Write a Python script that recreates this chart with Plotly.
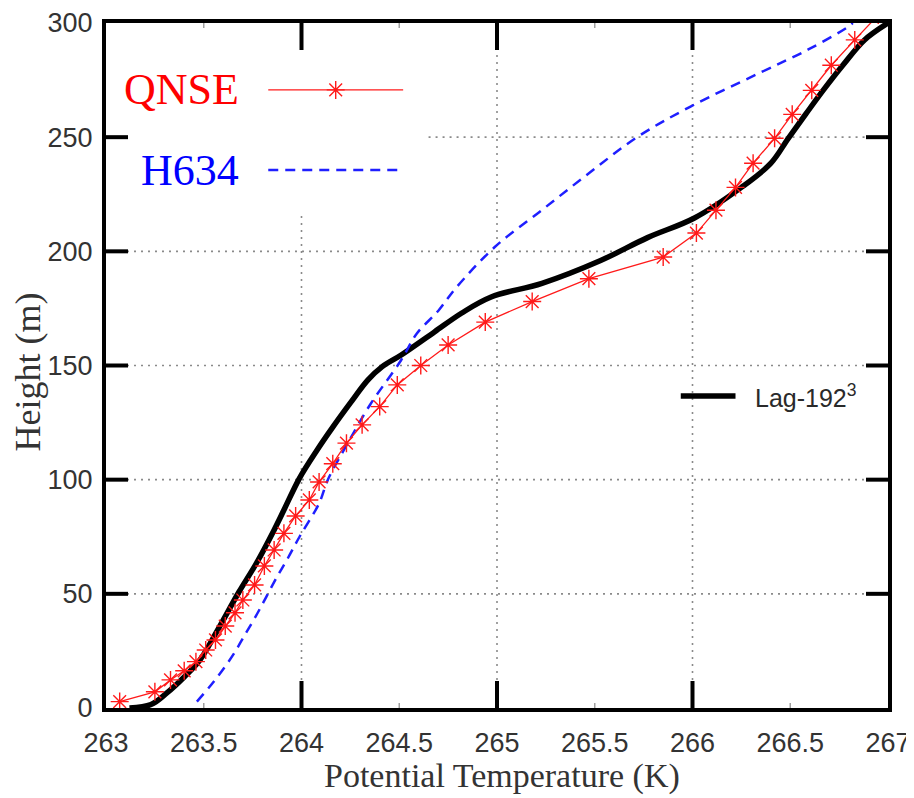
import plotly.graph_objects as go

# ---------------- data ----------------
lag_T = [263.12, 263.23, 263.31, 263.40, 263.48, 263.57, 263.68, 263.77, 263.86, 263.91,
         263.99, 264.08, 264.16, 264.25, 264.34, 264.413, 264.51, 264.68, 264.82, 264.97, 265.23,
         265.53, 265.77, 266.01, 266.25, 266.40, 266.49, 266.58, 266.67, 266.77, 266.88, 267.0]
lag_z = [0, 1.5, 6.5, 13.6, 21, 34, 50.8, 63.5, 78, 86.7,
         100.7, 113, 123, 133.6, 143.7, 149.5, 154.6, 164.7, 173, 180, 186,
         196, 206, 214.6, 228, 238.5, 249.5, 260.2, 270.7, 281.6, 292.6, 300]

qnse_T = [263.07, 263.25, 263.33, 263.40, 263.46, 263.51, 263.56, 263.61, 263.66, 263.70,
          263.76, 263.81, 263.86, 263.91, 263.97, 264.04, 264.09, 264.16, 264.23, 264.31,
          264.40, 264.49, 264.61, 264.75, 264.94, 265.18, 265.47, 265.85, 266.02, 266.12,
          266.22, 266.31, 266.42, 266.51, 266.61, 266.71, 266.83, 266.95]
qnse_z = [2.8, 7.1, 12.3, 16.3, 20.3, 25.4, 29.8, 35.9, 41.7, 47.3,
          53.9, 62.2, 69.2, 76.5, 84.1, 91.1, 99, 107, 116, 124,
          132, 141.5, 150, 159, 169, 178, 188, 197.5, 208, 218,
          228, 238.6, 249.5, 260, 270.5, 281.5, 292.6, 303.5]

h634_T = [263.465, 263.53, 263.59, 263.655, 263.71, 263.765, 263.82, 263.875, 263.925, 263.99,
          264.09, 264.135, 264.23, 264.35, 264.51, 264.59, 264.70, 264.79, 264.99, 265.23,
          265.47, 265.72, 265.99, 266.34, 266.59, 266.79, 266.82]
h634_z = [2.8, 9.3, 15.9, 23.9, 32, 40, 48.7, 57.5, 64.8, 75,
          89.6, 100, 115, 132.7, 152.4, 164, 174, 184, 202, 218.1,
          234.2, 250.2, 263.4, 278, 288.3, 298, 300]

x_ticks = [263, 263.5, 264, 264.5, 265, 265.5, 266, 266.5, 267]
x_labels = ["263", "263.5", "264", "264.5", "265", "265.5", "266", "266.5", "267"]
x_major = [264, 265, 266]
x_minor = [263.5, 264.5, 265.5, 266.5]
y_ticks = [0, 50, 100, 150, 200, 250, 300]
y_labels = ["0", "50", "100", "150", "200", "250", "300"]
y_major = [50, 100, 150, 200, 250]

series_names = ["QNSE", "H634", "Lag-192<sup>3</sup>"]

X_RANGE = [263, 267]
Y_RANGE = [0, 300]

# legend box / sample positions (layout, not data)
LEG_BOX = dict(x1=264.65, y0=217.5)
LEG_X = [263.83, 264.52]
LEG_QNSE_Y = 270.7
LEG_H634_Y = 235.6
LEG_TEXT_X = 263.69
LAG_LEG_X = [265.94, 266.22]
LAG_LEG_Y = 136.6
LAG_TEXT_X = 266.31

RED = "#ff1a1a"
BLUE = "#1f1fff"
GRID = "#8a8a8a"

# figure geometry (the page adds an 8px body margin)
FIG_W, FIG_H = 906, 790
M = dict(l=98, r=26, t=15, b=90)
PLOT_W = FIG_W - M["l"] - M["r"]
PLOT_H = FIG_H - M["t"] - M["b"]
XTICK_PX, YTICK_PX, MINOR_PX = 27, 22, 5

fig = go.Figure()

fig.add_trace(go.Scatter(x=lag_T, y=lag_z, mode="lines", name="Lag",
                         line=dict(color="black", width=5.5, shape="spline", smoothing=1.0),
                         showlegend=False))
fig.add_trace(go.Scatter(x=h634_T, y=h634_z, mode="lines", name="H634",
                         line=dict(color=BLUE, width=2.5, dash="10px,7px", shape="spline", smoothing=1.0),
                         showlegend=False))
fig.add_trace(go.Scatter(x=qnse_T, y=qnse_z, mode="lines+markers", name="QNSE",
                         line=dict(color=RED, width=1.3),
                         marker=dict(symbol="asterisk-open", size=15, color=RED,
                                     line=dict(color=RED, width=1.4)),
                         showlegend=False))

# custom legend samples
fig.add_trace(go.Scatter(x=LEG_X, y=[LEG_QNSE_Y] * 2, mode="lines", line=dict(color=RED, width=1.3),
                         showlegend=False, hoverinfo="skip"))
fig.add_trace(go.Scatter(x=[sum(LEG_X) / 2], y=[LEG_QNSE_Y], mode="markers",
                         marker=dict(symbol="asterisk-open", size=15, color=RED,
                                     line=dict(color=RED, width=1.4)),
                         showlegend=False, hoverinfo="skip"))
fig.add_trace(go.Scatter(x=LEG_X, y=[LEG_H634_Y] * 2, mode="lines",
                         line=dict(color=BLUE, width=2.5, dash="10px,7px"),
                         showlegend=False, hoverinfo="skip"))
fig.add_trace(go.Scatter(x=LAG_LEG_X, y=[LAG_LEG_Y] * 2, mode="lines",
                         line=dict(color="black", width=5.5),
                         showlegend=False, hoverinfo="skip"))

tickfont = dict(family="Liberation Sans, Arial, sans-serif", size=27, color="#333333")
serif = "Liberation Serif, Times New Roman, serif"
CLEAR = "rgba(0,0,0,0)"
grid_line = dict(color=GRID, width=1.6, dash="2px,5px")

shapes = []
# dotted grid (interrupted by the legend box in the upper left)
for xv in x_major:
    y_end = LEG_BOX["y0"] if xv < LEG_BOX["x1"] else Y_RANGE[1]
    shapes.append(dict(type="line", xref="x", yref="y", x0=xv, x1=xv, y0=Y_RANGE[0], y1=y_end,
                       line=grid_line, layer="below"))
for yv in y_major:
    x_start = LEG_BOX["x1"] if yv > LEG_BOX["y0"] else X_RANGE[0]
    shapes.append(dict(type="line", xref="x", yref="y", x0=x_start, x1=X_RANGE[1], y0=yv, y1=yv,
                       line=grid_line, layer="below"))

# inward tick marks on all four sides (matlab style), frame-relative lengths
major = dict(color="black", width=4)
minor = dict(color="#a0a0a0", width=1.5)
for vals, length, style in ((x_major, XTICK_PX, major), (x_minor, MINOR_PX, minor)):
    frac = length / PLOT_H
    for xv in vals:
        shapes.append(dict(type="line", xref="x", yref="paper", x0=xv, x1=xv,
                           y0=0, y1=frac, line=style, layer="above"))
        shapes.append(dict(type="line", xref="x", yref="paper", x0=xv, x1=xv,
                           y0=1 - frac, y1=1, line=style, layer="above"))
frac_y = YTICK_PX / PLOT_W
for yv in y_major:
    shapes.append(dict(type="line", xref="paper", yref="y", y0=yv, y1=yv,
                       x0=0, x1=frac_y, line=major, layer="above"))
    shapes.append(dict(type="line", xref="paper", yref="y", y0=yv, y1=yv,
                       x0=1 - frac_y, x1=1, line=major, layer="above"))

fig.update_layout(
    width=FIG_W, height=FIG_H,
    margin=M,
    paper_bgcolor="white",
    plot_bgcolor="white",
    xaxis=dict(range=X_RANGE, tickvals=x_ticks, ticktext=x_labels,
               ticks="outside", ticklen=8, tickcolor=CLEAR,
               showline=True, linewidth=4, linecolor="black", mirror=True,
               showgrid=False, zeroline=False, tickfont=tickfont,
               ticklabeloverflow="allow", automargin=False, fixedrange=True),
    yaxis=dict(range=Y_RANGE, tickvals=y_ticks, ticktext=y_labels,
               ticks="outside", ticklen=4, tickcolor=CLEAR,
               showline=True, linewidth=4, linecolor="black", mirror=True,
               showgrid=False, zeroline=False, tickfont=tickfont,
               ticklabeloverflow="allow", automargin=False, fixedrange=True),
    shapes=shapes,
    annotations=[
        dict(text="Potential Temperature (K)", xref="paper", yref="paper", x=0.506, y=-0.099,
             xanchor="center", yanchor="middle", showarrow=False,
             font=dict(family=serif, size=34, color="#333333")),
        dict(text="Height (m)", xref="paper", yref="paper", x=-0.0997, y=0.49,
             xanchor="center", yanchor="middle", textangle=-90, showarrow=False,
             font=dict(family=serif, size=36, color="#333333")),
        dict(text=series_names[0], xref="x", yref="y", x=LEG_TEXT_X, y=LEG_QNSE_Y,
             xanchor="right", yanchor="middle", showarrow=False,
             font=dict(family=serif, size=44, color="red")),
        dict(text=series_names[1], xref="x", yref="y", x=LEG_TEXT_X, y=LEG_H634_Y,
             xanchor="right", yanchor="middle", showarrow=False,
             font=dict(family=serif, size=44, color="#0000ff")),
        dict(text=series_names[2], xref="x", yref="y", x=LAG_TEXT_X, y=LAG_LEG_Y,
             xanchor="left", yanchor="middle", showarrow=False,
             font=dict(family="Liberation Sans, Arial, sans-serif", size=25, color="#2a2a2a")),
    ],
)

fig.write_html("out.html")
